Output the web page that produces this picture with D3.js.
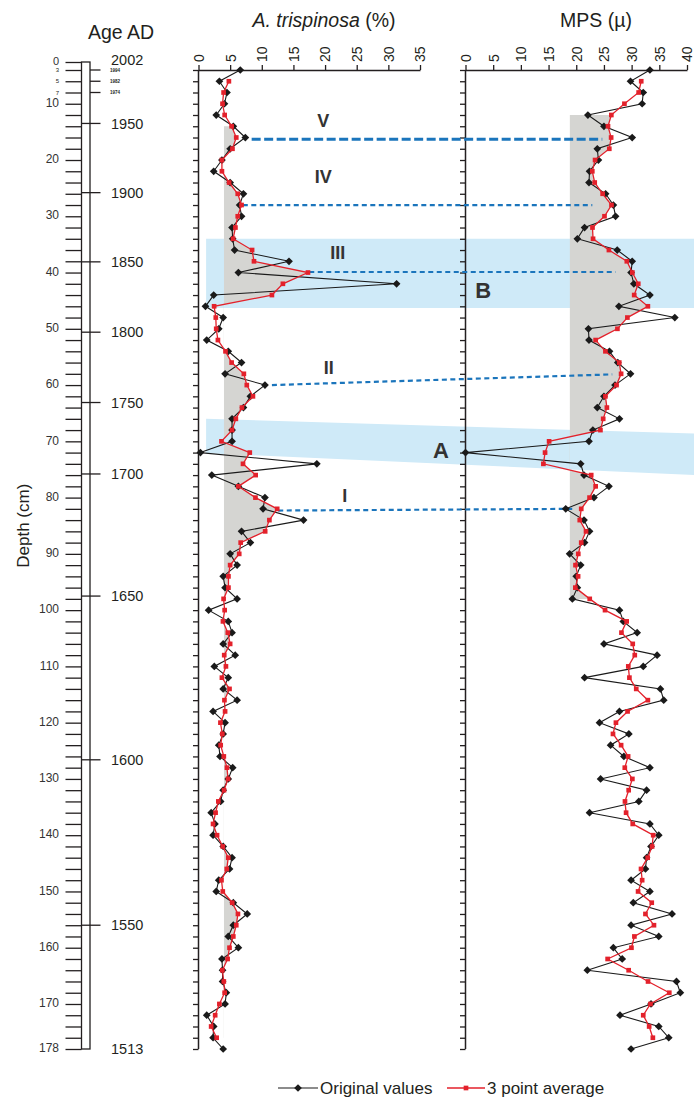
<!DOCTYPE html>
<html>
<head>
<meta charset="utf-8">
<title>A. trispinosa and MPS record</title>
<script src="https://cdn.jsdelivr.net/npm/d3@7/dist/d3.min.js"></script>
<style>
  html, body { margin: 0; padding: 0; background: #fff; }
  svg { display: block; }
  text { font-family: Arial, "Liberation Sans", Helvetica, sans-serif; fill: #231f20; }
</style>
</head>
<body>
<svg id="chart" width="694" height="1103"></svg>
<script>
// ---- data ---------------------------------------------------------------
// sample depths (cm)
const depthCm = [3, 5, 7, 10, 12, 14, 16, 18, 20, 22, 24, 26, 28, 30, 32, 34, 36, 38, 40,
  42, 44, 46, 48, 50, 52, 54, 56, 58, 60, 62, 64, 66, 68, 70, 72, 74, 76, 78, 80,
  82, 84, 86, 88, 90, 92, 94, 96, 98, 100, 102, 104, 106, 108, 110, 112, 114, 116, 118, 120,
  122, 124, 126, 128, 130, 132, 134, 136, 138, 140, 142, 144, 146, 148, 150, 152, 154, 156, 158, 160,
  162, 164, 166, 168, 170, 172, 174, 176, 178];

// A. trispinosa relative abundance (%)
const trispinosaPct = [6.6, 3.3, 4.5, 4.1, 2.8, 5.5, 7.4, 5.0, 3.7, 2.4,
  5.0, 7.1, 6.5, 6.8, 5.3, 5.4, 5.7, 14.3, 6.3, 31.3,
  2.4, 1.1, 3.9, 3.2, 1.3, 4.7, 6.8, 4.2, 10.5, 8.2,
  7.1, 5.3, 5.3, 5.3, 0.3, 18.7, 2.1, 6.3, 10.5, 10.2,
  16.6, 6.8, 8.2, 5.0, 6.1, 3.9, 4.2, 6.1, 1.6, 4.7,
  5.3, 3.9, 5.8, 2.5, 4.7, 3.9, 6.1, 2.3, 4.2, 3.9,
  3.2, 3.4, 5.4, 4.7, 3.9, 3.5, 2.0, 2.6, 2.3, 3.9,
  5.3, 4.9, 3.2, 2.8, 5.5, 7.7, 5.5, 4.7, 6.3, 3.7,
  3.8, 3.8, 4.4, 4.2, 1.3, 2.4, 2.3, 3.9];

// mean particle size (microns)
const mpsMicron = [33.3, 29.8, 32.1, 31.9, 22.1, 25.0, 30.1, 23.8, 24.0, 22.4,
  22.3, 25.3, 26.7, 27.1, 21.5, 20.2, 27.4, 30.1, 29.9, 30.4,
  33.3, 27.7, 37.8, 22.2, 22.3, 26.0, 27.5, 29.8, 27.0, 25.0,
  23.8, 27.8, 23.0, 22.3, 0.0, 20.8, 21.4, 25.9, 23.2, 18.1,
  21.4, 22.4, 21.5, 18.8, 20.8, 20.0, 20.2, 19.3, 27.8, 28.5,
  31.0, 25.0, 34.6, 32.1, 21.5, 35.2, 35.8, 27.8, 24.2, 29.5,
  26.2, 28.6, 33.3, 24.4, 32.7, 31.3, 22.4, 33.3, 34.9, 33.5,
  32.7, 32.5, 29.9, 33.3, 30.3, 37.3, 29.9, 34.9, 26.7, 28.3,
  22.0, 38.1, 38.8, 33.5, 27.9, 34.9, 36.7, 29.9];

// depth axis ticks (cm)
const depthTicks = [0].concat(depthCm);
const depthLabelsMajor = [0, 10, 20, 30, 40, 50, 60, 70, 80, 90, 100, 110, 120, 130, 140, 150, 160, 170, 178];
const depthLabelsMinor = [3, 5, 7];

// age-depth model
const ageLabels = ["2002", "1994", "1982", "1974", "1950", "1900", "1850", "1800", "1750", "1700", "1650", "1600", "1550", "1513"];
const ageDepth = [0, 3, 5, 7, 13.5, 25.8, 38.1, 50.6, 63.1, 75.8, 97.5, 126.6, 156.0, 178];
const ageKind = ["end", "minor", "minor", "minor", "major", "major", "major", "major", "major", "major", "major", "major", "major", "end"];

// axis ticks
const pctTicks = [0, 5, 10, 15, 20, 25, 30, 35];
const mpsTicks = [0, 5, 10, 15, 20, 25, 30, 35, 40];

// correlated events between the two records
const tieLabel = ["V", "IV", "III", "II", "I"];
const tieDepthLeft = [16.3, 28.0, 39.9, 60.0, 82.3];
const tieDepthRight = [16.3, 28.0, 39.9, 58.1, 82.0];
const tieFromPct = [8.4, 7.0, 17.5, 11.6, 12.6];
const tieToMps = [24.7, 22.9, 27.1, 26.5, 19.5];
const tieLabelPct = [19.7, 19.7, 22.0, 20.6, 23.1];
const tieLabelDepth = [12.9, 23.0, 36.4, 56.8, 79.7];

// highlighted intervals (depth at left edge / right edge)
const bandName = ["B", "A"];
const bandTopLeft = [34.0, 66.0];
const bandTopRight = [34.0, 68.6];
const bandBottomLeft = [46.3, 72.1];
const bandBottomRight = [46.3, 76.0];

// baselines of the shaded areas
const pctBaseline = 4;
const pctShadeFrom = 14;
const mpsBaseline = 18.8;
const mpsShadeFrom = 12;
const mpsShadeTo = 98;

// ---- layout ------------------------------------------------------------
const W = 694;
const svg = d3.select("#chart");

const y = d3.scaleLinear()
  .domain([0, 3, 5, 7, 10, 178])
  .range([62, 70, 81.25, 92.5, 103.75, 1049]);

const x1 = d3.scaleLinear().domain([0, 35]).range([198.5, 420]);
const x2 = d3.scaleLinear().domain([0, 40]).range([465.5, 687]);

const topY = y(depthCm[0]);
const botY = y(depthCm[depthCm.length - 1]);

const INK = "#231f20";
const RED = "#e3212b";
const BLUE = "#1b75bc";
const BAND = "#cfeaf8";
const GREY = "#d5d5d2";

// 3-point running mean
function runningMean(a) {
  return a.map((v, i) => (i > 0 && i < a.length - 1) ? (a[i - 1] + v + a[i + 1]) / 3 : null);
}
const pctSeries = depthCm.map((d, i) => ({ depth: d, v: trispinosaPct[i] }));
const mpsSeries = depthCm.map((d, i) => ({ depth: d, v: mpsMicron[i] }));
const pctAvg = runningMean(trispinosaPct).map((v, i) => ({ depth: depthCm[i], v })).filter(d => d.v !== null);
const mpsAvg = runningMean(mpsMicron).map((v, i) => ({ depth: depthCm[i], v })).filter(d => d.v !== null);

// ---- highlighted bands -------------------------------------------------
const bands = bandName.map((n, i) => ({
  name: n,
  pts: [[x1(1.2), y(bandTopLeft[i])], [W, y(bandTopRight[i])],
        [W, y(bandBottomRight[i])], [x1(1.2), y(bandBottomLeft[i])]]
}));
svg.append("g").selectAll("polygon").data(bands).join("polygon")
  .attr("points", d => d.pts.map(p => p.join(",")).join(" "))
  .attr("fill", BAND);

// ---- shaded areas above baseline ----------------------------------------
const defs = svg.append("defs");
function shade(id, series, xs, base, from, to) {
  defs.append("clipPath").attr("id", id).append("rect")
    .attr("x", xs(base)).attr("y", y(from))
    .attr("width", xs.range()[1] - xs(base) + 40)
    .attr("height", y(to) - y(from));
  const area = d3.area()
    .x0(xs(base)).x1(d => xs(d.v)).y(d => y(d.depth));
  svg.append("path")
    .datum(series.filter(d => d.depth >= from - 2 && d.depth <= to + 2))
    .attr("clip-path", `url(#${id})`)
    .attr("fill", GREY)
    .attr("d", area);
}
shade("clipPct", pctAvg, x1, pctBaseline, pctShadeFrom, 178);
shade("clipMps", mpsAvg, x2, mpsBaseline, mpsShadeFrom, mpsShadeTo);

// ---- panel axes --------------------------------------------------------
function panelAxes(xs, ticks) {
  const gTop = svg.append("g").attr("transform", `translate(0,${topY})`)
    .call(d3.axisTop(xs).tickValues(ticks).tickSize(5).tickSizeOuter(0).tickFormat(d3.format("d")));
  gTop.select(".domain").attr("stroke", INK).attr("stroke-width", 1.3);
  gTop.selectAll(".tick line").attr("stroke", INK).attr("stroke-width", 1.3);
  gTop.selectAll(".tick text")
    .attr("transform", "rotate(-90)")
    .attr("x", 8).attr("y", 0).attr("dy", "0.35em")
    .attr("text-anchor", "start")
    .style("font-size", "14px").style("fill", INK);

  const gLeft = svg.append("g").attr("transform", `translate(${xs(0)},0)`)
    .call(d3.axisLeft(y).tickValues(depthCm).tickSize(5.5).tickFormat(""));
  gLeft.select(".domain").remove();
  gLeft.selectAll(".tick line").attr("stroke", INK).attr("stroke-width", 1.3);
  gLeft.append("line").attr("y1", topY).attr("y2", botY)
    .attr("stroke", INK).attr("stroke-width", 1.5);
}
panelAxes(x1, pctTicks);
panelAxes(x2, mpsTicks);

// ---- correlation lines -------------------------------------------------
const ties = tieLabel.map((t, i) => ({
  label: t,
  xa: x1(tieFromPct[i]), ya: y(tieDepthLeft[i]),
  xb: x2(tieToMps[i]), yb: y(tieDepthRight[i]),
  lx: x1(tieLabelPct[i]), ly: y(tieLabelDepth[i])
}));
svg.append("g").selectAll("line").data(ties).join("line")
  .attr("x1", d => d.xa).attr("y1", d => d.ya)
  .attr("x2", d => d.xb).attr("y2", d => d.yb)
  .attr("stroke", BLUE)
  .attr("stroke-width", d => d.label === "V" ? 3 : 2.2)
  .attr("stroke-dasharray", d => d.label === "V" ? "9,3.5" : "5,3.5");
svg.append("g").selectAll("text").data(ties).join("text")
  .attr("x", d => d.lx).attr("y", d => d.ly).attr("dy", "0.36em")
  .attr("text-anchor", "middle")
  .style("font-size", "18px").style("font-weight", "bold").style("fill", "#333")
  .text(d => d.label);

// band labels
svg.append("text").attr("x", x1(38.3)).attr("y", y(71.5)).attr("dy", "0.36em")
  .attr("text-anchor", "middle").style("font-size", "22px").style("font-weight", "bold").style("fill", "#333")
  .text(bandName[1]);
svg.append("text").attr("x", x2(3.2)).attr("y", y(43.1)).attr("dy", "0.36em")
  .attr("text-anchor", "middle").style("font-size", "22px").style("font-weight", "bold").style("fill", "#333")
  .text(bandName[0]);

// ---- data series --------------------------------------------------------
const diamond = d3.symbol(d3.symbolSquare, 30);
const square = d3.symbol(d3.symbolSquare, 22);
function drawSeries(series, avg, xs) {
  const line = d3.line().x(d => xs(d.v)).y(d => y(d.depth));
  svg.append("path").datum(series).attr("d", line)
    .attr("fill", "none").attr("stroke", "#1a1a1a").attr("stroke-width", 1.1);
  svg.append("g").selectAll("path").data(series).join("path")
    .attr("d", diamond)
    .attr("transform", d => `translate(${xs(d.v)},${y(d.depth)}) rotate(45)`)
    .attr("fill", "#1a1a1a");
  svg.append("path").datum(avg).attr("d", line)
    .attr("fill", "none").attr("stroke", RED).attr("stroke-width", 1.3);
  svg.append("g").selectAll("path").data(avg).join("path")
    .attr("d", square)
    .attr("transform", d => `translate(${xs(d.v)},${y(d.depth)})`)
    .attr("fill", RED);
}
drawSeries(pctSeries, pctAvg, x1);
drawSeries(mpsSeries, mpsAvg, x2);

// ---- titles ------------------------------------------------------------
const t1 = svg.append("text").attr("x", 324).attr("y", 27).attr("text-anchor", "middle")
  .style("font-size", "19.5px");
t1.append("tspan").style("font-style", "italic").text("A. trispinosa");
t1.append("tspan").text(" (%)");
svg.append("text").attr("x", 596).attr("y", 27).attr("text-anchor", "middle")
  .style("font-size", "19.5px").text("MPS (µ)");
svg.append("text").attr("x", 121).attr("y", 39).attr("text-anchor", "middle")
  .style("font-size", "19.5px").text("Age AD");

// ---- depth / age column ------------------------------------------------
const colL = 81.5, colR = 90;
const gDepth = svg.append("g").attr("transform", `translate(${colL},0)`)
  .call(d3.axisLeft(y).tickValues(depthTicks).tickSize(16).tickFormat(""));
gDepth.select(".domain").remove();
gDepth.selectAll(".tick line").attr("stroke", INK).attr("stroke-width", 1.3);

svg.append("rect").attr("x", colL).attr("y", y(0))
  .attr("width", colR - colL).attr("height", y(178) - y(0))
  .attr("fill", "none").attr("stroke", INK).attr("stroke-width", 1.3);

svg.append("g").selectAll("text").data(depthLabelsMajor).join("text")
  .attr("x", 59).attr("y", d => y(d) - 1).attr("dy", "0.35em")
  .attr("text-anchor", "end").style("font-size", d => d === 0 ? "11px" : "12px")
  .style("fill", "#333")
  .text(d => d);
svg.append("g").selectAll("text").data(depthLabelsMinor).join("text")
  .attr("x", 59).attr("y", d => y(d)).attr("dy", "0.35em")
  .attr("text-anchor", "end").style("font-size", "6px")
  .text(d => d);

const ages = ageLabels.map((a, i) => ({ label: a, depth: ageDepth[i], kind: ageKind[i] }));
svg.append("g").selectAll("line").data(ages.filter(d => d.kind !== "end")).join("line")
  .attr("x1", d => d.kind === "major" ? colL : colR).attr("x2", 100.5)
  .attr("y1", d => y(d.depth)).attr("y2", d => y(d.depth))
  .attr("stroke", INK).attr("stroke-width", 1.3);
svg.append("g").selectAll("text").data(ages).join("text")
  .attr("x", d => d.kind === "minor" ? 110 : 111)
  .attr("y", d => y(d.depth) + (d.label === "2002" ? -2 : 0)).attr("dy", "0.36em")
  .style("font-size", d => d.kind === "minor" ? "4.5px" : "14.5px")
  .style("font-weight", d => d.kind === "minor" ? "bold" : "normal")
  .text(d => d.label);

svg.append("text")
  .attr("transform", `translate(23,${y(85)}) rotate(-90)`)
  .attr("text-anchor", "middle").attr("dy", "0.35em").style("font-size", "17px")
  .text("Depth (cm)");

// ---- legend ------------------------------------------------------------
const legY = 1088;
const leg = svg.append("g");
leg.append("line").attr("x1", 278).attr("x2", 318).attr("y1", legY).attr("y2", legY)
  .attr("stroke", "#1a1a1a").attr("stroke-width", 1.1);
leg.append("path").attr("d", diamond).attr("transform", `translate(298,${legY}) rotate(45)`).attr("fill", "#1a1a1a");
leg.append("text").attr("x", 320).attr("y", legY).attr("dy", "0.36em").style("font-size", "17px").text("Original values");
leg.append("line").attr("x1", 447).attr("x2", 485).attr("y1", legY).attr("y2", legY)
  .attr("stroke", RED).attr("stroke-width", 1.3);
leg.append("path").attr("d", square).attr("transform", `translate(466,${legY})`).attr("fill", RED);
leg.append("text").attr("x", 487).attr("y", legY).attr("dy", "0.36em").style("font-size", "17px").text("3 point average");
</script>
</body>
</html>
